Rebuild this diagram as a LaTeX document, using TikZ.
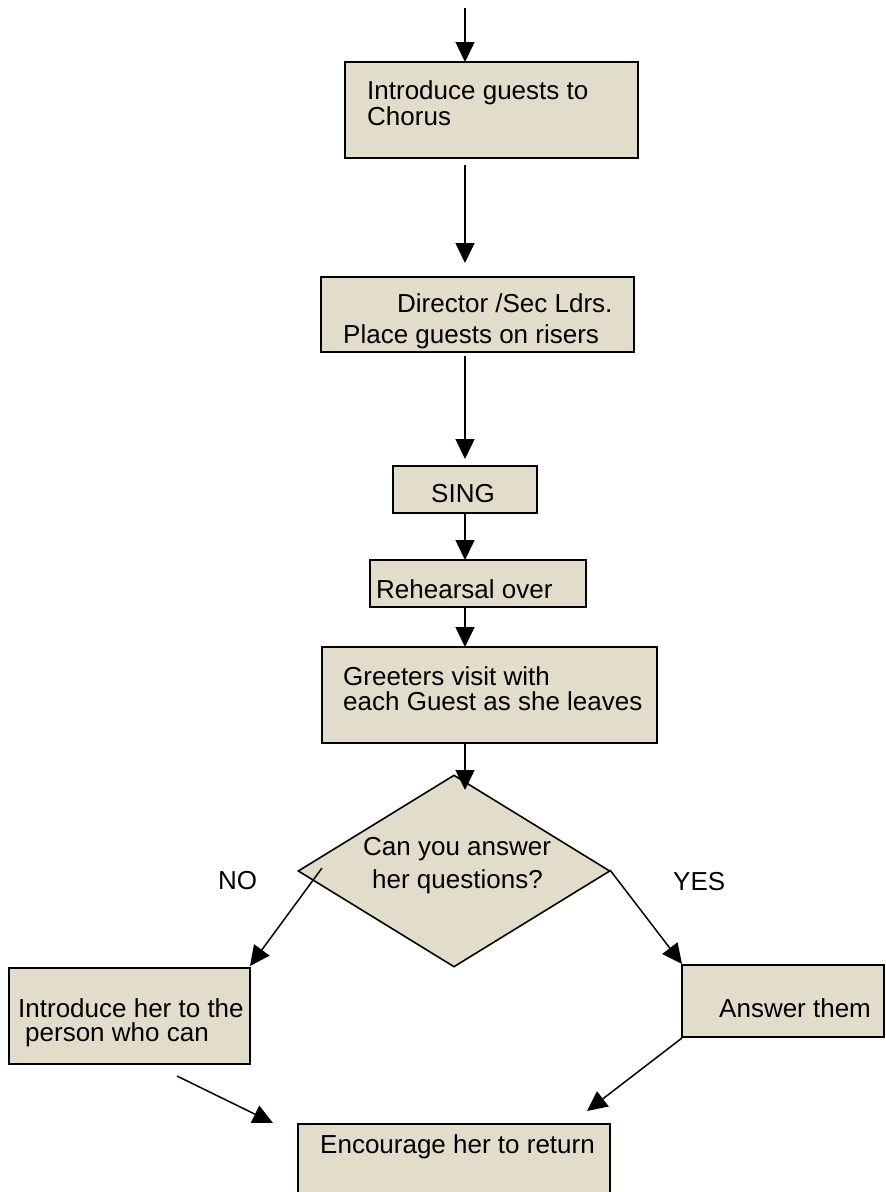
\documentclass[tikz,border=0pt]{standalone}
\usepackage{fontspec}
\setmainfont{Liberation Sans}
\usetikzlibrary{arrows.meta,shapes.geometric}
\definecolor{boxfill}{RGB}{226,221,203}
\tikzset{
  box/.style={draw=black, line width=1.6pt, fill=boxfill, rectangle, inner sep=0pt},
  dia/.style={draw=black, line width=1.6pt, fill=boxfill, diamond, inner sep=0pt},
  lbl/.style={anchor=base west, inner sep=0pt, font=\fontsize{26}{26}\selectfont},
  arr/.style={draw=black, line width=1.5pt, -{Triangle[length=20pt,width=19pt]}},
  ln/.style={draw=black, line width=1.5pt}
}
\begin{document}
\begin{tikzpicture}[x=1pt,y=-1pt]
\useasboundingbox (0,0) rectangle (886,1192);
% boxes
\node[box, minimum width=293pt, minimum height=96pt] (b1) at (491.5,110) {};
\node[box, minimum width=313pt, minimum height=75pt] (b2) at (477.5,314.5) {};
\node[box, minimum width=144pt, minimum height=47pt] (sing) at (465,489.5) {};
\node[box, minimum width=216pt, minimum height=47pt] (reh) at (478,583.5) {};
\node[box, minimum width=335pt, minimum height=96pt] (greet) at (489.5,695) {};
\node[dia, minimum width=312pt, minimum height=192pt] (q) at (454,871) {};
\node[box, minimum width=241pt, minimum height=96pt] (nobox) at (129.5,1016) {};
\node[box, minimum width=202pt, minimum height=72pt] (ans) at (783,1001) {};
\node[box, minimum width=312pt, minimum height=90pt] (enc) at (454,1169) {};
% texts
\node[lbl] (t1a) at (367,99) {Introduce guests to};
\node[lbl] (t1b) at (367,125) {Chorus};
\node[lbl] (t2a) at (397,312) {Director /Sec Ldrs.};
\node[lbl] (t2b) at (343,343) {Place guests on risers};
\node[lbl] (t3) at (431,502) {SING};
\node[lbl] (t4) at (376,598) {Rehearsal over};
\node[lbl] (t5a) at (343,685) {Greeters visit with};
\node[lbl] (t5b) at (343,710) {each Guest as she leaves};
\node[lbl] (t6a) at (363,855) {Can you answer};
\node[lbl] (t6b) at (372,888) {her questions?};
\node[lbl] (tno) at (218,889) {NO};
\node[lbl] (tyes) at (673,890) {YES};
\node[lbl] (t7a) at (18,1017) {Introduce her to the};
\node[lbl] (t7b) at (25,1041) {person who can};
\node[lbl] (t8) at (719,1017) {Answer them};
\node[lbl] (t9) at (320,1153) {Encourage her to return};
% connector end points
\coordinate (s0) at (465,8);
\coordinate (e0) at (465,62);
\coordinate (s1) at (465,165);
\coordinate (e1) at (465,263);
\coordinate (s2) at (465,356);
\coordinate (e2) at (465,459);
\coordinate (s3) at (465,513);
\coordinate (e3) at (465,560);
\coordinate (s4) at (465,607);
\coordinate (e4) at (465,647);
\coordinate (s5) at (465,743);
\coordinate (e5) at (465,790);
\coordinate (sno) at (322,868);
\coordinate (eno) at (250,966);
\coordinate (syes) at (610,870);
\coordinate (eyes) at (682,964);
\coordinate (sl) at (177,1076);
\coordinate (el) at (273,1123);
\coordinate (sr) at (682,1038);
\coordinate (er) at (587,1111);
% connectors
\draw[arr] (s0) -- (e0);
\draw[arr] (s1) -- (e1);
\draw[arr] (s2) -- (e2);
\draw[arr] (s3) -- (e3);
\draw[arr] (s4) -- (e4);
\draw[arr] (s5) -- (e5);
\draw[arr] (sno) -- (eno);
\draw[arr] (syes) -- (eyes);
\draw[arr] (sl) -- (el);
\draw[arr] (sr) -- (er);
\end{tikzpicture}
\end{document}
